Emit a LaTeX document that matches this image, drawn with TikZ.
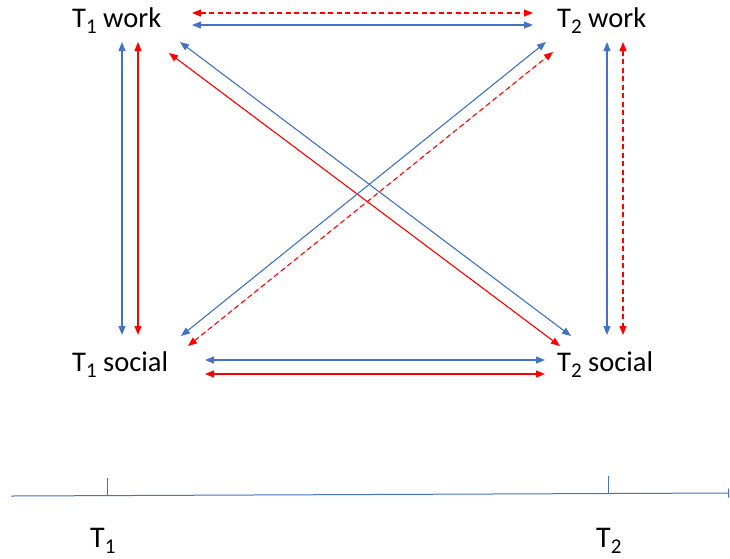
\documentclass[tikz,border=0pt]{standalone}
\usepackage{fontspec}
\setmainfont{Carlito}
\usetikzlibrary{arrows.meta}
\definecolor{obl}{HTML}{4472C4}
\definecolor{ored}{HTML}{FF0000}
\newcommand{\mysub}[1]{\raisebox{-6pt}{\fontsize{21}{21}\selectfont #1}}
\begin{document}
\begin{tikzpicture}[x=1pt,y=-1pt,
  lbl/.style={anchor=base west,inner sep=0pt,font=\fontsize{28.5}{32}\selectfont},
  tlbl/.style={anchor=base west,inner sep=0pt,font=\fontsize{30}{34}\selectfont},
  arr/.style={line width=1.1pt,{Triangle[length=9pt,width=7pt]}-{Triangle[length=9pt,width=7pt]}},
  bl/.style={arr,draw=obl,fill=obl},
  rd/.style={arr,draw=ored,fill=ored},
  rdd/.style={rd,dash pattern=on 5pt off 3.5pt},
  axis/.style={draw=obl,line width=1pt}]
\useasboundingbox (0,0) rectangle (730,558);
% labels
\node[lbl] (t1w) at (72,27) {T\mysub{1} work};
\node[lbl] (t2w) at (557,27) {T\mysub{2} work};
\node[lbl] (t1s) at (72,371) {T\mysub{1} social};
\node[lbl] (t2s) at (557,371) {T\mysub{2} social};
% arrow end points
\coordinate (a1) at (192,13); \coordinate (a2) at (533,13);
\coordinate (b1) at (192,25); \coordinate (b2) at (533,25);
\coordinate (c1) at (122,42); \coordinate (c2) at (122,335);
\coordinate (d1) at (138,42); \coordinate (d2) at (138,335);
\coordinate (e1) at (607,42); \coordinate (e2) at (607,335);
\coordinate (f1) at (623,42); \coordinate (f2) at (623,335);
\coordinate (g1) at (180,42); \coordinate (g2) at (571,336);
\coordinate (h1) at (169,53); \coordinate (h2) at (560,346);
\coordinate (i1) at (181,336); \coordinate (i2) at (546,42);
\coordinate (j1) at (188,346); \coordinate (j2) at (553,52);
\coordinate (k1) at (205,360); \coordinate (k2) at (545,360);
\coordinate (l1) at (205,374); \coordinate (l2) at (545,374);
% arrows
\draw[rdd] (a1) -- (a2);
\draw[bl] (b1) -- (b2);
\draw[bl] (c1) -- (c2);
\draw[rd] (d1) -- (d2);
\draw[bl] (e1) -- (e2);
\draw[rdd] (f1) -- (f2);
\draw[bl] (g1) -- (g2);
\draw[rd] (h1) -- (h2);
\draw[bl] (i1) -- (i2);
\draw[rdd] (j1) -- (j2);
\draw[bl] (k1) -- (k2);
\draw[rd] (l1) -- (l2);
% timeline
\coordinate (ta) at (11,496);
\coordinate (tb) at (729,493);
\draw[axis,-{Bar[width=9pt]}] (ta) -- (tb);
\coordinate (m1) at (107,478); \coordinate (m1b) at (107,495.5);
\coordinate (m2) at (608,476); \coordinate (m2b) at (608,493.5);
\draw[axis] (m1) -- (m1b);
\draw[axis] (m2) -- (m2b);
\node[tlbl] (tt1) at (90,547) {T\mysub{1}};
\node[tlbl] (tt2) at (596,547) {T\mysub{2}};
\end{tikzpicture}
\end{document}
